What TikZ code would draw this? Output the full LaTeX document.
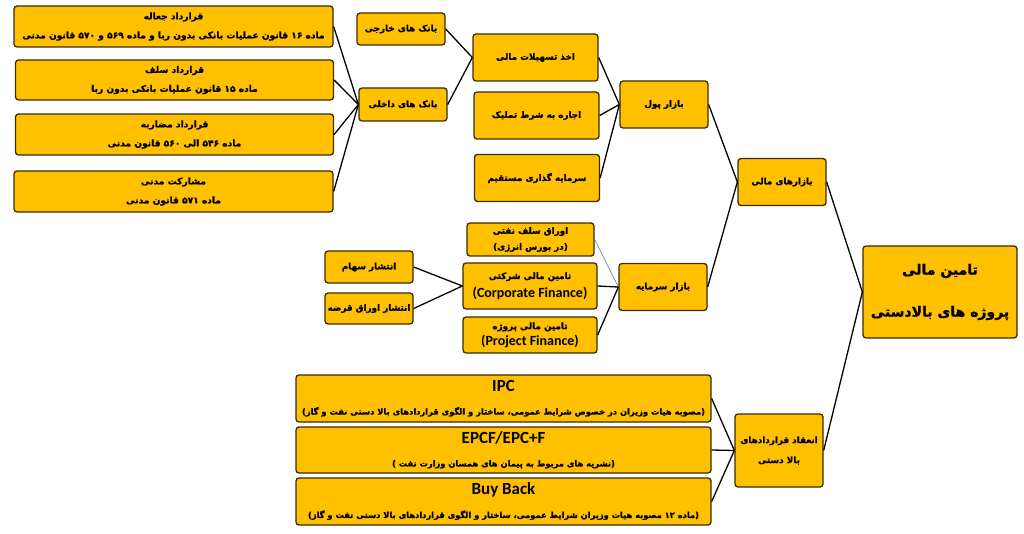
\documentclass[tikz,border=0pt]{standalone}
\usepackage{fontspec}
\usetikzlibrary{positioning}
\TeXXeTstate=1
\newfontfamily\pfont[Script=Arabic,BoldFeatures={FakeBold=1.2}]{DejaVu Sans}
\newfontfamily\lfont{Carlito}
\definecolor{boxfill}{HTML}{FFC000}
\definecolor{boxline}{HTML}{3A2C05}
\definecolor{steel}{HTML}{6F8FB8}

\begin{document}
\begin{tikzpicture}[x=1pt,y=-1pt,
    box/.style={draw=boxline,fill=boxfill,line width=1.3pt,rounded corners=3pt,
      align=center,inner sep=0pt,font=\pfont\bfseries\fontsize{8.8}{18.5}\selectfont},
    bankbox/.style={box,minimum width=88pt,minimum height=33pt},
    hubbox/.style={box,minimum width=88pt,minimum height=47pt},
    loanbox/.style={box,minimum width=125pt,minimum height=47pt},
    lawbox/.style={box,minimum width=318pt,minimum height=41pt,
      font=\pfont\bfseries\fontsize{9.1}{19}\selectfont},
    dealbox/.style={box,minimum width=415pt,minimum height=47pt,
      font=\pfont\bfseries\fontsize{8.3}{23}\selectfont},
    wire/.style={draw=black,line width=1.3pt}]
   \fill[white] (0,0) rectangle (1024,534);
   \useasboundingbox (0,0) rectangle (1024,534);
   % root and markets
   \node[box,minimum width=154pt,minimum height=92pt,
     font=\pfont\bfseries\fontsize{14}{42}\selectfont] (t_0) at (940,292)
     {\beginR تامین مالی\endR\\\beginR پروژه های بالادستی\endR};
   \node[hubbox] (m_0) at (782,182) {\beginR بازارهای مالی\endR};
   \node[hubbox] (m_1) at (664,104.5) {\beginR بازار پول\endR};
   \node[hubbox] (m_2) at (663,287) {\beginR بازار سرمایه\endR};
   \node[box,minimum width=88pt,minimum height=73pt,
     font=\pfont\bfseries\fontsize{8.8}{20}\selectfont] (k_0) at (779,450.5)
     {\beginR انعقاد قراردادهای\endR\\\beginR بالا دستی\endR};
   % money market
   \node[loanbox] (p_1) at (535.5,57.5) {\beginR اخذ تسهیلات مالی\endR};
   \node[loanbox] (p_2) at (536.5,115.5) {\beginR اجاره به شرط تملیک\endR};
   \node[loanbox] (p_3) at (537,178) {\beginR سرمایه گذاری مستقیم\endR};
   \node[bankbox,minimum height=32pt] (b_1) at (401,29) {\beginR بانک های خارجی\endR};
   \node[bankbox] (b_2) at (403,104.5) {\beginR بانک های داخلی\endR};
   \node[lawbox,minimum width=319pt] (c_1) at (173.5,26.5)
     {\beginR قرارداد جعاله\endR\\\beginR ماده ۱۶ قانون عملیات بانکی بدون ربا و ماده ۵۶۹  و ۵۷۰ قانون مدنی\endR};
   \node[lawbox,minimum height=40pt] (c_2) at (174.5,80)
     {\beginR قرارداد سلف\endR\\\beginR ماده ۱۵ قانون عملیات بانکی بدون ربا\endR};
   \node[lawbox] (c_3) at (174.5,134.5)
     {\beginR قرارداد مضاربه\endR\\\beginR ماده ۵۴۶ الی ۵۶۰ قانون مدنی\endR};
   \node[lawbox,minimum width=319pt] (c_4) at (173.5,191.5)
     {\beginR مشارکت مدنی\endR\\\beginR ماده ۵۷۱ قانون مدنی\endR};
   % capital market
   \node[box,minimum width=127pt,minimum height=33pt,
     font=\pfont\bfseries\fontsize{8.8}{16}\selectfont] (s_1) at (530.5,239.5)
     {\beginR اوراق سلف نفتی\endR\\\beginR (در بورس انرژی)\endR};
   \node[box,minimum width=134pt,minimum height=46pt] (s_2) at (530,286)
     {\beginR تامین مالی شرکتی\endR\\{\lfont\fontsize{14}{14}\selectfont (Corporate Finance)}};
   \node[box,minimum width=134pt,minimum height=36pt,
     font=\pfont\bfseries\fontsize{8.8}{16}\selectfont] (s_3) at (530,335)
     {\beginR تامین مالی پروژه\endR\\{\lfont\fontsize{14}{14}\selectfont (Project Finance)}};
   \node[bankbox,minimum height=32pt] (e_1) at (369,267) {\beginR انتشار سهام\endR};
   \node[bankbox,minimum height=31pt] (e_2) at (369,308.5) {\beginR انتشار اوراق قرضه\endR};
   % upstream contracts
   \node[dealbox] (k_1) at (503.5,398.5)
     {{\lfont\fontsize{17}{17}\selectfont IPC}\\\beginR (مصوبه هیات وزیران در خصوص شرایط عمومی، ساختار و الگوی قراردادهای بالا دستی نفت و گاز)\endR};
   \node[dealbox,minimum height=46pt] (k_2) at (503.5,450)
     {{\lfont\fontsize{17}{17}\selectfont EPCF/EPC+F}\\\beginR (نشریه های مربوط به پیمان های همسان وزارت نفت )\endR};
   \node[dealbox] (k_3) at (503.5,501.5)
     {{\lfont\fontsize{17}{17}\selectfont Buy Back}\\\beginR (ماده ۱۲ مصوبه هیات وزیران شرایط عمومی، ساختار و الگوی قراردادهای بالا دستی نفت و گاز)\endR};
    \path[wire]
    (m_0.east) edge (t_0.west)
    (k_0.east) edge (t_0.west)
    (m_1.east) edge (m_0.west)
    (m_2.east) edge (m_0.west)
    (p_1.east) edge (m_1.west)
    (p_2.east) edge (m_1.west)
    (p_3.east) edge (m_1.west)
    (b_1.east) edge (p_1.west)
    (b_2.east) edge (p_1.west)
    (c_1.east) edge (b_2.west)
    (c_2.east) edge (b_2.west)
    (c_3.east) edge (b_2.west)
    (c_4.east) edge (b_2.west)
    (s_1.east) edge [draw=steel,line width=0.7pt] (m_2.west)
    (s_2.east) edge (m_2.west)
    (s_3.east) edge (m_2.west)
    (e_1.east) edge (s_2.west)
    (e_2.east) edge (s_2.west)
    (k_1.east) edge (k_0.west)
    (k_2.east) edge (k_0.west)
    (k_3.east) edge (k_0.west);
\end{tikzpicture}
\end{document}
